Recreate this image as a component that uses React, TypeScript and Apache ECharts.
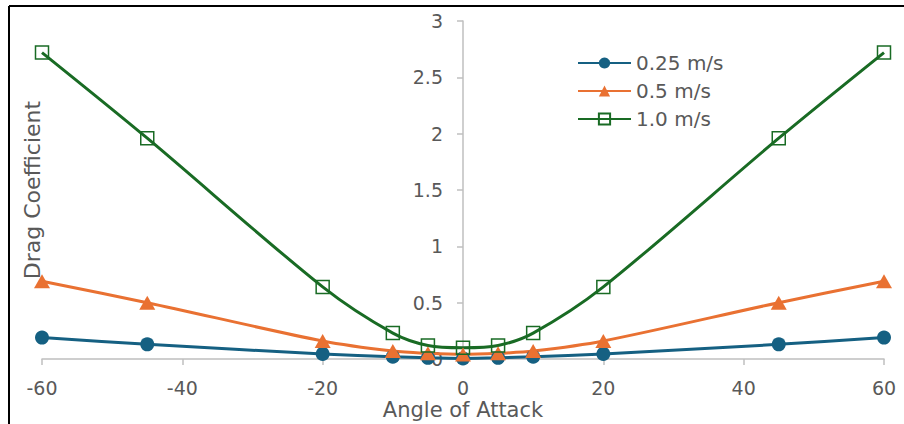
import React, { useEffect, useRef } from "react";
import * as echarts from "echarts";

const angles = [-60, -45, -20, -10, -5, 0, 5, 10, 20, 45, 60];
const seriesNames = ["0.25 m/s", "0.5 m/s", "1.0 m/s"];
const cd025 = [0.19, 0.13, 0.045, 0.02, 0.01, 0.005, 0.01, 0.02, 0.045, 0.13, 0.19];
const cd05 = [0.69, 0.5, 0.16, 0.07, 0.05, 0.04, 0.05, 0.07, 0.16, 0.5, 0.69];
const cd10 = [2.72, 1.96, 0.64, 0.23, 0.12, 0.1, 0.12, 0.23, 0.64, 1.96, 2.72];
const colors = ["#156082", "#E97132", "#196B24"];
const xTitle = "Angle of Attack";
const yTitle = "Drag Coefficient";

const FONT = "'DejaVu Sans', sans-serif";
const TXT = "#595959";
const AXIS = "#bfbfbf";

export default function App() {
  const ref = useRef<HTMLDivElement>(null);
  useEffect(() => {
    if (!ref.current) return;
    const chart = echarts.init(ref.current, undefined, { renderer: "svg" });
    const pair = (ys: number[]) => angles.map((a, i) => [a, ys[i]]);
    chart.setOption({
      animation: false,
      backgroundColor: "#ffffff",
      textStyle: { fontFamily: FONT },
      grid: { left: 42, right: 20, top: 21, bottom: 65, containLabel: false, outerBoundsMode: "none" },
      legend: {
        orient: "vertical",
        left: 572,
        top: 48,
        itemWidth: 53,
        itemHeight: 14,
        itemGap: 8,
        textStyle: { fontSize: 20, color: TXT, fontFamily: FONT },
        data: seriesNames,
      },
      xAxis: {
        type: "value",
        min: -60,
        max: 60,
        interval: 20,
        axisLine: { show: true, onZero: false, lineStyle: { color: AXIS, width: 1.5 } },
        axisTick: { show: true, length: 6, lineStyle: { color: AXIS, width: 1.5 } },
        axisLabel: {
          fontSize: 19,
          lineHeight: 16,
          color: TXT,
          margin: 21,
          fontFamily: FONT,
          hideOverlap: false,
        },
        splitLine: { show: false },
      },
      yAxis: {
        type: "value",
        min: 0,
        max: 3,
        interval: 0.5,
        position: "left",
        offset: -421,
        axisLine: { show: true, onZero: false, lineStyle: { color: AXIS, width: 1.5 } },
        axisTick: { show: true, length: 6, lineStyle: { color: AXIS, width: 1.5 } },
        axisLabel: { fontSize: 19, color: TXT, margin: 20, fontFamily: FONT, hideOverlap: false },
        splitLine: { show: false },
      },
      graphic: [
        {
          type: "text",
          x: 32,
          y: 190,
          rotation: Math.PI / 2,
          style: {
            text: yTitle,
            fill: TXT,
            fontSize: 22,
            fontFamily: FONT,
            align: "center",
            verticalAlign: "middle",
          },
        },
        {
          type: "text",
          x: 463,
          y: 410,
          style: {
            text: xTitle,
            fill: TXT,
            fontSize: 21,
            lineHeight: 18,
            fontFamily: FONT,
            align: "center",
            verticalAlign: "middle",
          },
        },
        {
          type: "line",
          shape: { x1: 9, y1: 6, x2: 904, y2: 6 },
          style: { stroke: "#000", lineWidth: 2 },
        },
        {
          type: "line",
          shape: { x1: 9, y1: 6, x2: 9, y2: 424 },
          style: { stroke: "#000", lineWidth: 2 },
        },
      ],
      series: [
        {
          name: seriesNames[0],
          type: "line",
          data: pair(cd025),
          smooth: 0.3,
          symbol: "circle",
          symbolSize: 14,
          lineStyle: { color: colors[0], width: 3 },
          itemStyle: { color: colors[0] },
        },
        {
          name: seriesNames[1],
          type: "line",
          data: pair(cd05),
          smooth: 0.3,
          symbol: "triangle",
          symbolSize: [16, 14],
          lineStyle: { color: colors[1], width: 3 },
          itemStyle: { color: colors[1] },
        },
        {
          name: seriesNames[2],
          type: "line",
          data: pair(cd10),
          smooth: 0.3,
          symbol: "rect",
          symbolSize: 13,
          lineStyle: { color: colors[2], width: 3 },
          itemStyle: { color: "rgba(255,255,255,0)", borderColor: colors[2], borderWidth: 1.5 },
        },
      ],
    });
    return () => chart.dispose();
  }, []);
  return (
    <div
      ref={ref}
      style={{ position: "fixed", left: 0, top: 0, width: 904, height: 424 }}
    />
  );
}
